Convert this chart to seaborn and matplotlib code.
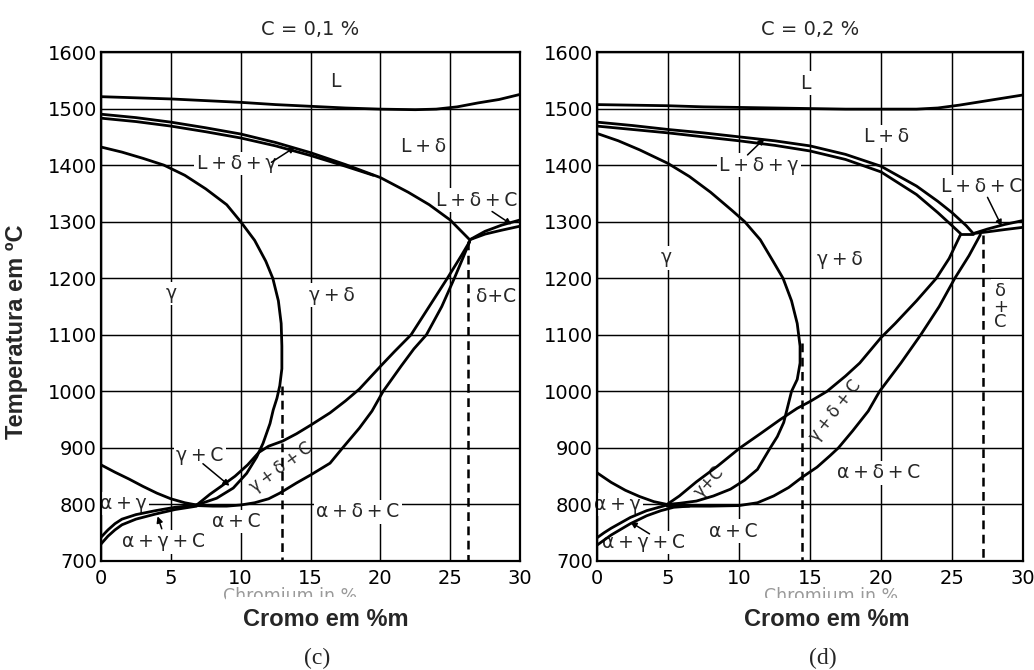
import matplotlib
matplotlib.use("Agg")
import matplotlib.pyplot as plt
from matplotlib.patches import Rectangle
import pandas as pd
import seaborn as sns

# ---------------- C = 0,1 % : phase boundaries (Cr %, T °C) ----------------
c01_liquidus = [(0, 1521), (2.5, 1519), (5, 1517), (7.5, 1514), (10, 1511), (12.5, 1507),
                (15, 1504), (17.5, 1501), (20, 1499), (22.5, 1498), (24, 1499), (25.5, 1503),
                (27, 1510), (28.5, 1516), (30, 1525)]
c01_delta_upper = [(0, 1490), (2.5, 1484), (5, 1476), (7.5, 1466), (10, 1455), (12.5, 1440),
                   (15, 1422), (17.5, 1401), (20, 1378), (22, 1352), (23.5, 1330), (25, 1303),
                   (26.4, 1268)]
c01_delta_lower = [(0, 1483), (2.5, 1477), (5, 1469), (7.5, 1459), (10, 1448), (12.5, 1434),
                   (15, 1417), (17.5, 1398), (19.5, 1382)]
c01_gamma_nose = [(0, 1432), (1.5, 1423), (3, 1412), (4.5, 1400), (6, 1382), (7.5, 1358),
                  (9, 1330), (10, 1300), (11, 1267), (11.8, 1230), (12.3, 1200), (12.7, 1160),
                  (12.9, 1120), (12.95, 1080), (12.95, 1040), (12.8, 1010), (12.6, 988),
                  (12.33, 967), (12.1, 943), (11.6, 908), (11.15, 884), (10.43, 855),
                  (9.47, 829), (8.28, 811), (6.85, 799)]
c01_gdc_upper = [(6.85, 799), (7.8, 818), (8.6, 832), (9.6, 850), (10.5, 870), (11.3, 892),
                 (12, 903), (13, 912), (14, 925), (15, 940), (16.4, 962), (17.5, 983),
                 (18.5, 1004), (20, 1044), (21, 1070), (22.2, 1100), (23.5, 1150),
                 (24.8, 1200), (25.8, 1240), (26.4, 1265)]
c01_adc_upper = [(6.85, 798), (8, 797), (9, 797), (10, 799), (11, 803), (12, 810), (12.8, 820),
                 (14, 838), (15, 852), (16.4, 873), (17.3, 900), (18.5, 935), (19.4, 965),
                 (20.2, 1000), (21.5, 1045), (22.4, 1075), (23.3, 1100), (24.4, 1150),
                 (25.3, 1200), (25.9, 1235), (26.4, 1265)]
c01_alpha_gamma = [(0, 870), (1, 857), (2, 845), (3, 832), (4, 820), (5, 810), (6, 803), (6.85, 799)]
c01_agc_upper = [(0, 742), (0.5, 755), (1, 766), (1.5, 774), (2.5, 782), (3.9, 789), (5.3, 795), (6.85, 799)]
c01_agc_lower = [(0, 730), (0.5, 744), (1, 755), (1.5, 764), (2.5, 774), (3.9, 783), (5.3, 791), (6.85, 797)]
c01_ldc_upper = [(26.4, 1268), (27.5, 1283), (28.7, 1294), (30, 1303)]
c01_ldc_lower = [(26.4, 1268), (27.5, 1278), (28.7, 1285), (30, 1292)]
c01_dash_a = [(12.95, 1010), (12.95, 700)]
c01_dash_b = [(26.3, 1265), (26.3, 700)]

# ---------------- C = 0,2 % ----------------
c02_liquidus = [(0, 1507), (2.5, 1506), (5, 1505), (7.5, 1503), (10, 1502), (12.5, 1501),
                (15, 1500), (17.5, 1499), (20, 1499), (22.5, 1499), (24, 1501), (25.5, 1506),
                (27, 1512), (28.5, 1518), (30, 1524)]
c02_delta_upper = [(0, 1476), (2.5, 1470), (5, 1463), (7.5, 1457), (10, 1450), (12.5, 1443),
                   (15, 1434), (17.5, 1419), (20, 1398), (22.5, 1363), (24, 1336), (25, 1316),
                   (26, 1293), (26.5, 1279)]
c02_delta_lower = [(0, 1469), (2.5, 1463), (5, 1457), (7.5, 1450), (10, 1443), (12.5, 1435),
                   (15, 1425), (17.5, 1410), (20, 1388), (22.5, 1348), (24, 1316), (25, 1293),
                   (25.6, 1279)]
c02_eutectic = [(25.6, 1279), (26.5, 1279)]
c02_gamma_nose = [(0, 1456), (1.5, 1443), (3, 1427), (5, 1403), (6.5, 1380), (8, 1352),
                  (9.5, 1320), (10.4, 1300), (11.5, 1268), (12.4, 1230), (13.1, 1200),
                  (13.7, 1160), (14.1, 1120), (14.3, 1080), (14.3, 1050), (14.1, 1021),
                  (13.7, 1000), (13.15, 945), (12.7, 920), (12.2, 900), (11.3, 862),
                  (10.4, 843), (9.4, 827), (8.2, 815), (7, 806), (5.8, 802), (4.93, 800)]
c02_gdc_upper = [(4.93, 800), (5.8, 815), (7, 840), (8.5, 868), (10.07, 900), (11.5, 925),
                 (12.9, 950), (14.1, 970), (15, 982), (16.2, 1000), (17.5, 1027), (18.5, 1050),
                 (20, 1095), (21, 1120), (22.5, 1160), (23.9, 1200), (24.8, 1235), (25.6, 1277)]
c02_adc_upper = [(4.93, 797), (6, 797), (8, 797), (10, 798), (11.3, 803), (12.44, 815),
                 (13.5, 830), (14.44, 848), (15.5, 866), (16.4, 886), (17, 900), (18, 930),
                 (19.1, 965), (19.9, 1000), (21.4, 1050), (22.8, 1100), (24.1, 1150),
                 (25.2, 1200), (26.2, 1240), (27, 1277)]
c02_alpha_gamma = [(0, 856), (1, 839), (2, 825), (3, 814), (4, 805), (4.93, 800)]
c02_agc_upper = [(0, 741), (0.5, 750), (1, 758), (2.35, 777), (3.5, 789), (4.93, 799)]
c02_agc_lower = [(0, 728), (0.5, 737), (1, 746), (2.35, 766), (3.5, 780), (4.5, 789), (5.4, 795), (6.5, 797)]
c02_ldc_upper = [(26.5, 1279), (27.5, 1287), (28.7, 1295), (30, 1302)]
c02_ldc_lower = [(26.5, 1279), (27.5, 1282), (28.7, 1286), (30, 1290)]
c02_dash_a = [(14.45, 1085), (14.45, 700)]
c02_dash_b = [(27.2, 1277), (27.2, 700)]

# ---------------- axis settings ----------------
cr_ticks = [0, 5, 10, 15, 20, 25, 30]
temp_ticks = [700, 800, 900, 1000, 1100, 1200, 1300, 1400, 1500, 1600]
titles = ["C = 0,1 %", "C = 0,2 %"]
captions = ["(c)", "(d)"]

TS = "\u2009"
def lab(*parts):
    return f"{TS}+{TS}".join(parts)

# region labels: text, Cr %, T, rotation, boxed, size
c01_labels = [("L", 16.75, 1548, 0, True, 13.5), (lab("L", "δ"), 23.1, 1433, 0, True, 13.5),
              (lab("L", "δ", "γ"), 9.7, 1403, 0, True, 13.5), (lab("L", "δ", "C"), 26.9, 1338, 0, True, 13.5),
              ("γ", 5.06, 1173, 0, True, 13.5), (lab("γ", "δ"), 16.5, 1170, 0, True, 13.5),
              ("δ+C", 28.3, 1167, 0, True, 13.5), (lab("γ", "C"), 7.1, 887, 0, True, 13.5),
              (lab("γ", "δ", "C"), 12.9, 866, 36, False, 12), (lab("α", "γ"), 1.6, 802, 0, True, 13.5),
              (lab("α", "γ", "C"), 4.46, 734, 0, True, 13.5), (lab("α", "C"), 9.7, 770, 0, True, 13.5),
              (lab("α", "δ", "C"), 18.4, 787, 0, True, 13.5)]
c02_labels = [("L", 14.65, 1545, 0, True, 13.5), (lab("L", "δ"), 20.4, 1451, 0, True, 13.5),
              (lab("L", "δ", "γ"), 11.4, 1400, 0, True, 13.5), (lab("L", "δ", "C"), 27.1, 1362, 0, True, 13.5),
              ("γ", 4.9, 1236, 0, True, 13.5), (lab("γ", "δ"), 17.1, 1233, 0, True, 13.5),
              ("δ\n+\nC", 28.4, 1150, 0, True, 13), ("γ+C", 7.9, 840, 47, False, 12),
              (lab("γ", "δ", "C"), 16.8, 965, 52, False, 12), (lab("α", "γ"), 1.4, 800, 0, True, 13.5),
              (lab("α", "γ", "C"), 3.3, 733, 0, True, 13.5), (lab("α", "C"), 9.6, 753, 0, True, 13.5),
              (lab("α", "δ", "C"), 19.8, 856, 0, True, 13.5)]

# leader arrows: tail -> head
c01_arrows = [((12.2, 1405), (13.9, 1432)), ((28.0, 1318), (29.4, 1295)),
              ((7.3, 872), (9.2, 833)), ((4.35, 757), (4.05, 779))]
c02_arrows = [((10.6, 1418), (11.8, 1447)), ((27.5, 1343), (28.5, 1292)),
              ((3.7, 748), (2.35, 769))]

panels = [
    dict(solid={"liquidus": c01_liquidus, "delta_upper": c01_delta_upper,
                "delta_lower": c01_delta_lower, "gamma_nose": c01_gamma_nose,
                "gdc_upper": c01_gdc_upper, "adc_upper": c01_adc_upper,
                "alpha_gamma": c01_alpha_gamma, "agc_upper": c01_agc_upper,
                "agc_lower": c01_agc_lower, "ldc_upper": c01_ldc_upper,
                "ldc_lower": c01_ldc_lower},
         dashed={"a": c01_dash_a, "b": c01_dash_b},
         labels=c01_labels, arrows=c01_arrows),
    dict(solid={"liquidus": c02_liquidus, "delta_upper": c02_delta_upper,
                "delta_lower": c02_delta_lower, "eutectic": c02_eutectic,
                "gamma_nose": c02_gamma_nose, "gdc_upper": c02_gdc_upper,
                "adc_upper": c02_adc_upper, "alpha_gamma": c02_alpha_gamma,
                "agc_upper": c02_agc_upper, "agc_lower": c02_agc_lower,
                "ldc_upper": c02_ldc_upper, "ldc_lower": c02_ldc_lower},
         dashed={"a": c02_dash_a, "b": c02_dash_b},
         labels=c02_labels, arrows=c02_arrows),
]


def to_frame(curves):
    rows = []
    for name, pts in curves.items():
        for i, (cr, t) in enumerate(pts):
            rows.append({"curve": name, "order": i, "cr": cr, "temp": t})
    return pd.DataFrame(rows)


sns.set_style("white")
plt.rcParams["font.family"] = ["DejaVu Sans"]
plt.rcParams["axes.unicode_minus"] = False

W, H = 1034, 670
fig = plt.figure(figsize=(W / 100, H / 100), dpi=100)
ax_boxes = [[101 / W, 109 / H, 419 / W, 509 / H], [597 / W, 109 / H, 426 / W, 509 / H]]

for k, (panel, box) in enumerate(zip(panels, ax_boxes)):
    ax = fig.add_axes(box)
    ax.set_axisbelow(True)
    ax.grid(True, color="black", linewidth=1.05, zorder=0.5)

    sns.lineplot(data=to_frame(panel["solid"]), x="cr", y="temp", units="curve",
                 estimator=None, sort=False, color="black", linewidth=2.0, ax=ax,
                 legend=False, zorder=4)
    sns.lineplot(data=to_frame(panel["dashed"]), x="cr", y="temp", units="curve",
                 estimator=None, sort=False, color="black", linewidth=1.8, ax=ax,
                 legend=False, zorder=4, linestyle=(0, (3.5, 2.2)))

    for text, cr, t, rot, boxed, size in panel["labels"]:
        kw = dict(ha="center", va="center", fontsize=size, rotation=rot, zorder=2,
                  rotation_mode="anchor", linespacing=0.85)
        if boxed:
            kw["bbox"] = dict(boxstyle="square,pad=0.12", facecolor="white", edgecolor="none")
        ax.text(cr, t, text, **kw)

    for tail, head in panel["arrows"]:
        ax.annotate("", xy=head, xytext=tail, zorder=5,
                    arrowprops=dict(arrowstyle="-|>", color="black", lw=1.1,
                                    mutation_scale=9, shrinkA=0, shrinkB=0))

    ax.set_xlim(0, 30)
    ax.set_ylim(700, 1600)
    ax.set_xticks(cr_ticks)
    ax.set_yticks(temp_ticks)
    ax.set_xlabel("")
    ax.set_ylabel("")
    ax.tick_params(axis="both", length=0, labelsize=14, colors="black")
    ax.tick_params(axis="x", pad=6)
    ax.tick_params(axis="y", pad=3)
    for sp in ax.spines.values():
        sp.set_color("black")
        sp.set_linewidth(1.6)
        sp.set_zorder(3)
    ax.set_title(titles[k], fontsize=14, pad=12)

# axis captions
fig.text(17 / W, 1 - 332 / H, "Temperatura em ºC", rotation=90, ha="center", va="center",
         fontsize=17, fontweight="bold", family="Liberation Sans")

# older English caption sits underneath, mostly masked by a white patch
for cx_ghost, (rx0, rx1, ry0), cx_label, cx_cap, cap in [
        (290, (226, 430, 597), 326, 317, captions[0]),
        (831, (700, 960, 598), 827, 823, captions[1])]:
    fig.text(cx_ghost / W, 1 - 596 / H, "Chromium in %", ha="center", va="center",
             fontsize=12.5, color="#9a9a9a", zorder=4)
    fig.add_artist(Rectangle((rx0 / W, 1 - 640 / H), (rx1 - rx0) / W, (640 - ry0) / H,
                             transform=fig.transFigure, facecolor="white",
                             edgecolor="none", zorder=5))
    fig.text(cx_label / W, 1 - 620 / H, "Cromo em %m", ha="center", va="center",
             fontsize=17, fontweight="bold", family="Liberation Sans", zorder=6)
    fig.text(cx_cap / W, 1 - 658 / H, cap, ha="center", va="center",
             fontsize=17, family="Liberation Serif", zorder=6)

fig.savefig("out.png", dpi=100, facecolor="white")
